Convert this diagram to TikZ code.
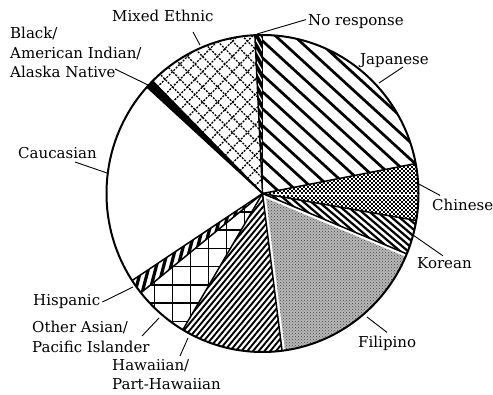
\documentclass[tikz,border=0pt]{standalone}
\usepackage{fontspec}
\setmainfont{DejaVu Serif}
\usetikzlibrary{patterns,calc}
\newcommand\hatch[3]{\foreach \k in {-40,...,40} \draw[#3] (#1+90:{\k*#2 pt}) ++(#1:-200pt) -- ++(#1:400pt);}
\begin{document}
\begin{tikzpicture}[x=1pt,y=1pt,
  lbl/.style={font=\fontsize{15}{19.5}\selectfont, inner sep=0pt, align=left},
  leader/.style={line width=0.9pt},
  edge/.style={line width=1.5pt},
  wedge/.style 2 args={insert path={(0,0) -- (#1:156pt) arc[start angle=#1, end angle=#2, radius=156pt] -- cycle}},
]
\useasboundingbox (0,0) rectangle (493,395);
\fill[white] (0,0) rectangle (493,395);
\begin{scope}[shift={(262.5,201.5)}, yscale=1.016]
  % Japanese
  \begin{scope}\clip[wedge={10.9}{90}]; \hatch{-42}{12.4}{line width=2.7pt} \end{scope}
  % No response
  \fill[black, wedge={90}{92.8}];
  \begin{scope}\clip[wedge={90}{92.8}]; \hatch{-60}{5}{white,line width=1.2pt} \end{scope}
  % Mixed ethnic
  \begin{scope}\clip[wedge={92.8}{134.8}];
    \hatch{45}{10.6}{line width=1.3pt, dash pattern=on 2pt off 1.3pt}
    \hatch{-45}{10.6}{line width=1.3pt, dash pattern=on 2pt off 1.3pt}
  \end{scope}
  % Black / American Indian
  \fill[black, wedge={134.8}{137.8}];
  % Hispanic
  \begin{scope}\clip[wedge={213.3}{218.8}]; \hatch{75}{7}{line width=3.2pt} \end{scope}
  % Other Asian
  \begin{scope}\clip[wedge={218.8}{239.3}];
    \hatch{0}{18}{line width=1.6pt}
    \hatch{90}{18}{line width=1.6pt}
  \end{scope}
  % Hawaiian
  \begin{scope}\clip[wedge={239.3}{277.2}]; \hatch{50}{4.4}{line width=1.9pt} \end{scope}
  % Filipino
  \begin{scope}
    \clip (0,0) circle[radius=156pt];
    \fill[black!28] (307.4:6pt) -- +(277.2:200pt) arc[start angle=277.2, end angle=337.6, radius=200pt] -- cycle;
    \fill[pattern=crosshatch dots, pattern color=black!75] (307.4:6pt) -- +(277.2:200pt) arc[start angle=277.2, end angle=337.6, radius=200pt] -- cycle;
  \end{scope}
  % Korean
  \begin{scope}\clip[wedge={337.6}{350.2}]; \hatch{-40}{5}{line width=2.2pt} \end{scope}
  % Chinese (fine checkerboard)
  \begin{scope}\clip[wedge={350.2}{370.9}];
    \foreach \k in {-34,-30,...,34} {
      \draw[line width=2pt, dash pattern=on 2pt off 2pt] (0,\k) -- (170,\k);
      \draw[line width=2pt, dash pattern=on 2pt off 2pt] (2,\k+2) -- (172,\k+2);
    }
  \end{scope}
  % edges
  \foreach \a in {10.9,90,92.8,134.8,137.8,213.3,218.8,239.3,277.2,337.6,350.2}
    \draw[edge] (0,0) -- (\a:156pt);
  \draw[line width=2pt] (0,0) circle[radius=156pt];
\end{scope}

% labels
\node[lbl, anchor=base west] (mix) at (112,373) {Mixed Ethnic};
\node[lbl, anchor=base west] (nor) at (308,369.5) {No response};
\node[lbl, anchor=base west] (jap) at (360,330) {Japanese};
\node[lbl, anchor=base west] (chi) at (432,184) {Chinese};
\node[lbl, anchor=base west] (kor) at (417,126) {Korean};
\node[lbl, anchor=base west] (fil) at (358,47) {Filipino};
\node[lbl, anchor=base west] (his) at (33,89) {Hispanic};
\node[lbl, anchor=base west] (cau) at (18,236) {Caucasian};
\node[lbl, anchor=north west] (blk) at (10,368) {Black/\\American Indian/\\Alaska Native};
\node[lbl, anchor=north west] (oth) at (32,74) {Other Asian/\\Pacific Islander};
\node[lbl, anchor=north west] (haw) at (112,36) {Hawaiian/\\Part-Hawaiian};

% pie-side ends of leaders
\coordinate (p-mix) at (200,350);
\coordinate (p-nor) at (257,361);
\coordinate (p-jap) at (379,312);
\coordinate (p-chi) at (417,212);
\coordinate (p-kor) at (413,160);
\coordinate (p-fil) at (367,78);
\coordinate (p-haw) at (188,57);
\coordinate (p-oth) at (159,77);
\coordinate (p-his) at (133,108);
\coordinate (p-cau) at (107,222);
\coordinate (p-blk) at (148,310);

\draw[leader] ([shift={(81,-10)}]mix.base west) -- (p-mix);
\draw[leader] ([shift={(-2,2)}]nor.west) -- (p-nor);
\draw[leader] ([shift={(43,-2)}]jap.base west) -- (p-jap);
\draw[leader] ([shift={(8,4)}]chi.north west) -- (p-chi);
\draw[leader] ([shift={(26,2)}]kor.north west) -- (p-kor);
\draw[leader] ([shift={(29,4)}]fil.north west) -- (p-fil);
\draw[leader] ([shift={(68,3)}]haw.north west) -- (p-haw);
\draw[leader] ([shift={(110,-15)}]oth.north west) -- (p-oth);
\draw[leader] ([shift={(2,0)}]his.east) -- (p-his);
\draw[leader] ([shift={(57,-3)}]cau.base west) -- (p-cau);
\draw[leader] ([shift={(105,-42)}]blk.north west) -- (p-blk);
\end{tikzpicture}
\end{document}
